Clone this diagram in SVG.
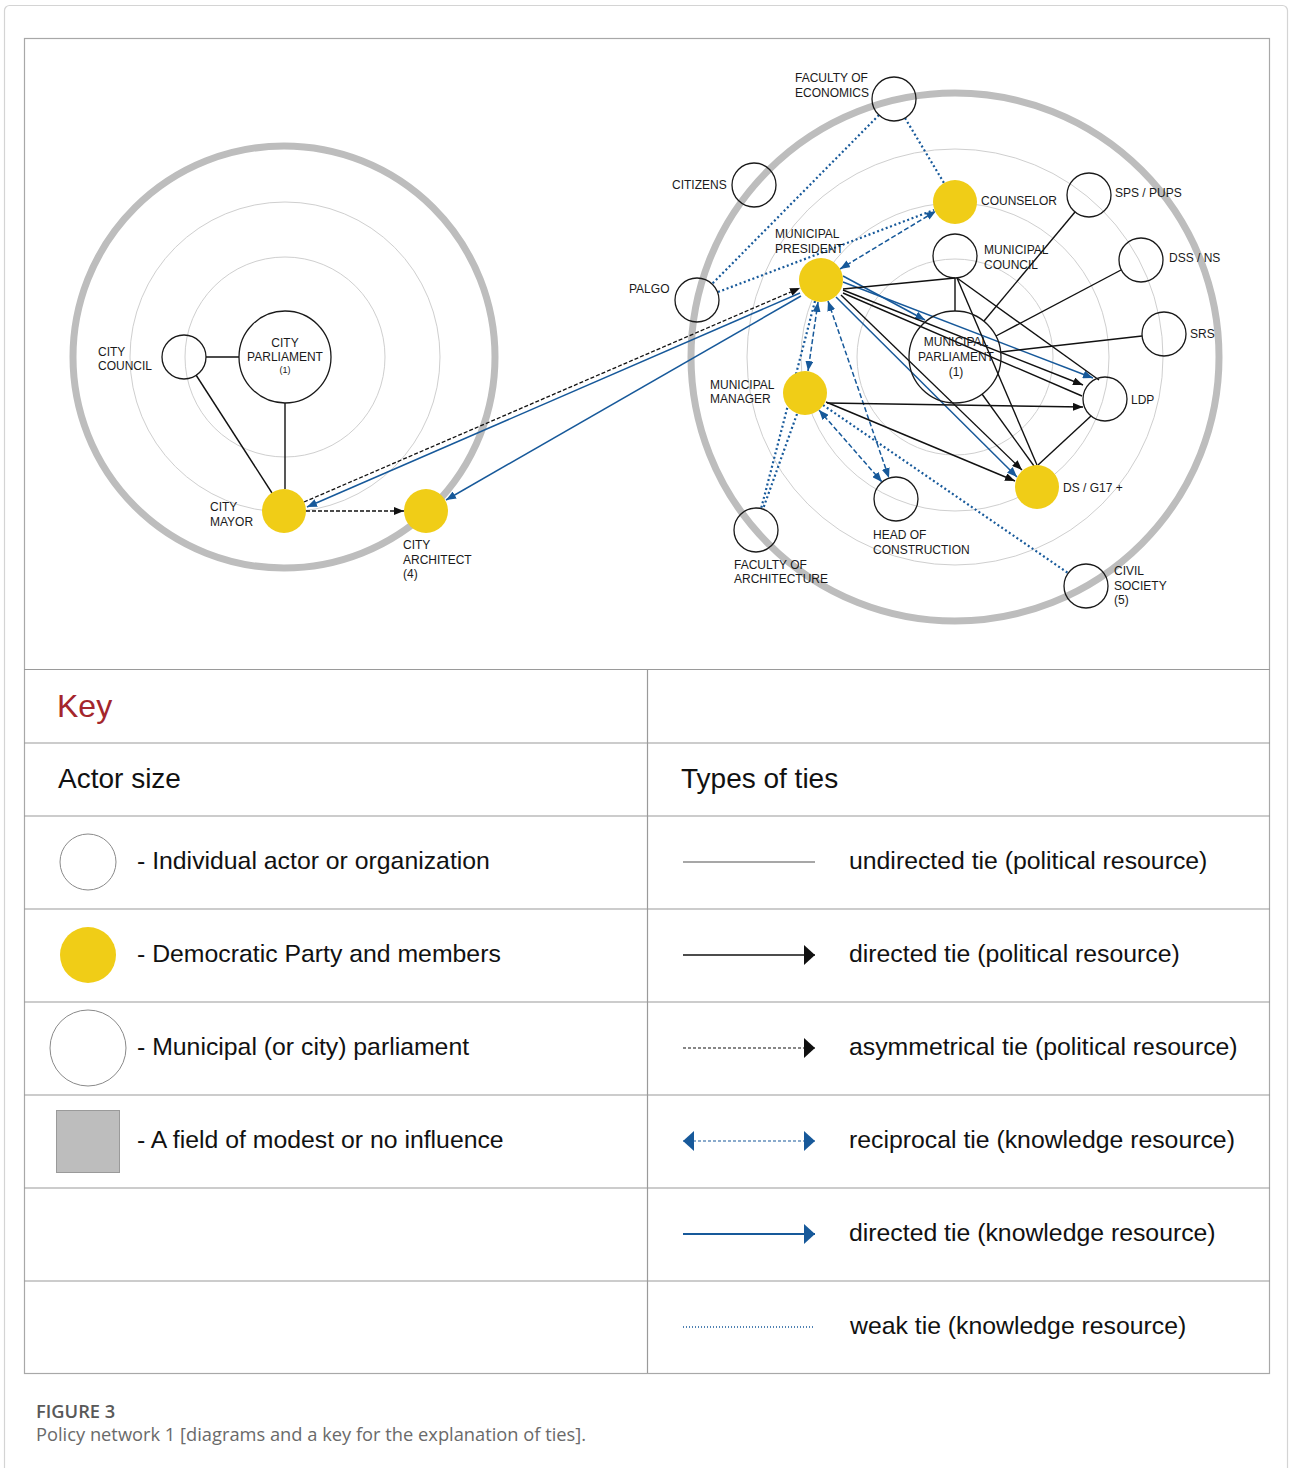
<svg xmlns="http://www.w3.org/2000/svg" width="1290" height="1468" viewBox="0 0 1290 1468">
<style>
  .lbl{font-family:"Liberation Sans",Arial,sans-serif;font-size:12px;fill:#1a1a1a}
  .sm{font-size:9px}
  .node{fill:none;stroke:#1a1a1a;stroke-width:1.3}
  .dp{fill:#f0cd17;stroke:none}
  .field{fill:none;stroke:#bdbdbd;stroke-width:7}
  .ring{fill:none;stroke:#cfcfcf;stroke-width:1}
  .u{stroke:#111;stroke-width:1.4;fill:none}
  .asym{stroke:#111;stroke-width:1.3;stroke-dasharray:4 2;fill:none}
  .kd{stroke:#17599a;stroke-width:1.5;fill:none}
  .rec{stroke:#17599a;stroke-width:1.5;stroke-dasharray:5 2.5;fill:none}
  .weak{stroke:#17599a;stroke-width:2.2;stroke-dasharray:2 2.6;fill:none}
  .grid{stroke:#9a9a9a;stroke-width:1.2;fill:none}
  .kt{font-family:"Liberation Sans",Arial,sans-serif;font-size:24.8px;fill:#111}
  .kh{font-family:"Liberation Sans",Arial,sans-serif;font-size:28px;fill:#111}
</style>
<defs>
  <marker id="ab" viewBox="0 0 10 8" refX="10" refY="4" markerWidth="10" markerHeight="8" markerUnits="userSpaceOnUse" orient="auto"><path d="M0,0L10,4L0,8z" fill="#111"/></marker>
  <marker id="au" viewBox="0 0 10 8" refX="10" refY="4" markerWidth="10" markerHeight="8" markerUnits="userSpaceOnUse" orient="auto"><path d="M0,0L10,4L0,8z" fill="#17599a"/></marker>
  <marker id="aur" viewBox="0 0 10 8" refX="10" refY="4" markerWidth="10" markerHeight="8" markerUnits="userSpaceOnUse" orient="auto-start-reverse"><path d="M0,0L10,4L0,8z" fill="#17599a"/></marker>
  <marker id="kb" viewBox="0 0 11 20" refX="11" refY="10" markerWidth="11" markerHeight="20" markerUnits="userSpaceOnUse" orient="auto"><path d="M0,0L11,10L0,20z" fill="#111"/></marker>
  <marker id="ku" viewBox="0 0 11 20" refX="11" refY="10" markerWidth="11" markerHeight="20" markerUnits="userSpaceOnUse" orient="auto"><path d="M0,0L11,10L0,20z" fill="#17599a"/></marker>
  <marker id="kur" viewBox="0 0 11 20" refX="11" refY="10" markerWidth="11" markerHeight="20" markerUnits="userSpaceOnUse" orient="auto-start-reverse"><path d="M0,0L11,10L0,20z" fill="#17599a"/></marker>
</defs>

<rect width="1290" height="1468" fill="#fff"/>
<rect x="4.5" y="5.5" width="1283" height="1475" rx="5" fill="none" stroke="#d4d4d4" stroke-width="1.2"/>
<rect x="24.5" y="38.5" width="1245" height="1335" fill="none" stroke="#a8a8a8" stroke-width="1.2"/>

<!-- fields of influence: city (left) and municipality (right) -->
<g id="city-field">
  <circle class="ring" cx="285" cy="357" r="100"/>
  <circle class="ring" cx="285" cy="357" r="155"/>
  <circle class="field" cx="284" cy="357" r="211"/>
</g>
<g id="municipal-field">
  <circle class="ring" cx="955" cy="357" r="98"/>
  <circle class="ring" cx="955" cy="357" r="154"/>
  <circle class="ring" cx="955" cy="357" r="208"/>
  <circle class="field" cx="955" cy="357" r="264"/>
</g>

<g id="connectors">
  <!-- city network -->
  <line class="u" x1="206" y1="357" x2="239" y2="357"/>
  <line class="u" x1="196" y1="375" x2="272" y2="493"/>
  <line class="u" x1="285" y1="403" x2="285" y2="489"/>
  <line class="asym" x1="306" y1="511" x2="404" y2="511" marker-end="url(#ab)"/>
  <!-- between the two networks -->
  <line class="asym" x1="304" y1="502" x2="800" y2="288" marker-end="url(#ab)"/>
  <line class="kd" x1="800" y1="293" x2="307" y2="507" marker-end="url(#au)"/>
  <line class="kd" x1="801" y1="296" x2="446" y2="500" marker-end="url(#au)"/>
  <!-- weak ties -->
  <line class="weak" x1="879" y1="115" x2="712" y2="284"/>
  <line class="weak" x1="905" y1="118" x2="944" y2="183"/>
  <line class="weak" x1="718" y1="292" x2="934" y2="210"/>
  <line class="weak" x1="815" y1="301" x2="761" y2="509"/>
  <line class="weak" x1="797" y1="414" x2="763" y2="509"/>
  <line class="weak" x1="823" y1="405" x2="1068" y2="573"/>
  <!-- reciprocal ties -->
  <line class="rec" x1="840" y1="269" x2="936" y2="211" marker-start="url(#aur)" marker-end="url(#aur)"/>
  <line class="rec" x1="818" y1="302" x2="808" y2="371" marker-start="url(#aur)" marker-end="url(#aur)"/>
  <line class="rec" x1="828" y1="301" x2="889" y2="478" marker-start="url(#aur)" marker-end="url(#aur)"/>
  <line class="rec" x1="819" y1="410" x2="882" y2="482" marker-start="url(#aur)" marker-end="url(#aur)"/>
  <!-- directed knowledge ties -->
  <line class="kd" x1="843" y1="276" x2="925" y2="320" marker-end="url(#au)"/>
  <line class="kd" x1="843" y1="282" x2="1093" y2="378" marker-end="url(#au)"/>
  <line class="kd" x1="836" y1="297" x2="1017" y2="477" marker-end="url(#au)"/>
  <!-- undirected political ties -->
  <line class="u" x1="843" y1="289" x2="955" y2="278"/>
  <line class="u" x1="955" y1="278" x2="955" y2="311"/>
  <line class="u" x1="957" y1="278" x2="1099" y2="380"/>
  <line class="u" x1="957" y1="278" x2="1037" y2="465"/>
  <line class="u" x1="984" y1="321" x2="1075" y2="212"/>
  <line class="u" x1="996" y1="336" x2="1121" y2="270"/>
  <line class="u" x1="1001" y1="352" x2="1142" y2="336"/>
  <line class="u" x1="1091" y1="416" x2="1038" y2="465"/>
  <line class="u" x1="982" y1="394" x2="1034" y2="466"/>
  <line class="u" x1="843" y1="293" x2="1082" y2="396"/>
  <!-- directed political ties -->
  <line class="u" x1="843" y1="290" x2="1083" y2="385" marker-end="url(#ab)"/>
  <line class="u" x1="827" y1="403" x2="1083" y2="407" marker-end="url(#ab)"/>
  <line class="u" x1="841" y1="295" x2="1022" y2="470" marker-end="url(#ab)"/>
  <line class="u" x1="826" y1="402" x2="1015" y2="481" marker-end="url(#ab)"/>
</g>

<!-- city network actors -->
<g id="city-parliament">
  <circle class="node" cx="285" cy="357" r="46"/>
  <text class="lbl" x="285" y="347" text-anchor="middle">CITY</text>
  <text class="lbl" x="285" y="361" text-anchor="middle">PARLIAMENT</text>
  <text class="lbl sm" x="285" y="373" text-anchor="middle">(1)</text>
</g>
<g id="city-council">
  <circle class="node" cx="184" cy="357" r="22"/>
  <text class="lbl" x="98" y="356">CITY</text>
  <text class="lbl" x="98" y="370">COUNCIL</text>
</g>
<g id="city-mayor">
  <circle class="dp" cx="284" cy="511" r="22"/>
  <text class="lbl" x="210" y="511">CITY</text>
  <text class="lbl" x="210" y="526">MAYOR</text>
</g>
<g id="city-architect">
  <circle class="dp" cx="426" cy="511" r="22"/>
  <text class="lbl" x="403" y="549">CITY</text>
  <text class="lbl" x="403" y="564">ARCHITECT</text>
  <text class="lbl" x="403" y="578">(4)</text>
</g>

<!-- municipal network actors -->
<g id="faculty-economics">
  <circle class="node" cx="894" cy="99" r="22"/>
  <text class="lbl" x="795" y="82">FACULTY OF</text>
  <text class="lbl" x="795" y="97">ECONOMICS</text>
</g>
<g id="citizens">
  <circle class="node" cx="754" cy="185" r="22"/>
  <text class="lbl" x="672" y="189">CITIZENS</text>
</g>
<g id="palgo">
  <circle class="node" cx="697" cy="300" r="22"/>
  <text class="lbl" x="629" y="293">PALGO</text>
</g>
<g id="counselor">
  <circle class="dp" cx="955" cy="202" r="22"/>
  <text class="lbl" x="981" y="205">COUNSELOR</text>
</g>
<g id="municipal-council">
  <circle class="node" cx="955" cy="256" r="22"/>
  <text class="lbl" x="984" y="254">MUNICIPAL</text>
  <text class="lbl" x="984" y="269">COUNCIL</text>
</g>
<g id="municipal-president">
  <circle class="dp" cx="821" cy="280" r="22"/>
  <text class="lbl" x="775" y="238">MUNICIPAL</text>
  <text class="lbl" x="775" y="253">PRESIDENT</text>
</g>
<g id="municipal-parliament">
  <circle class="node" cx="955" cy="357" r="46"/>
  <text class="lbl" x="956" y="346" text-anchor="middle">MUNICIPAL</text>
  <text class="lbl" x="956" y="361" text-anchor="middle">PARLIAMENT</text>
  <text class="lbl" x="956" y="376" text-anchor="middle">(1)</text>
</g>
<g id="municipal-manager">
  <circle class="dp" cx="805" cy="393" r="22"/>
  <text class="lbl" x="710" y="389">MUNICIPAL</text>
  <text class="lbl" x="710" y="403">MANAGER</text>
</g>
<g id="sps-pups">
  <circle class="node" cx="1089" cy="195" r="22"/>
  <text class="lbl" x="1115" y="197">SPS / PUPS</text>
</g>
<g id="dss-ns">
  <circle class="node" cx="1141" cy="260" r="22"/>
  <text class="lbl" x="1169" y="262">DSS / NS</text>
</g>
<g id="srs">
  <circle class="node" cx="1164" cy="334" r="22"/>
  <text class="lbl" x="1190" y="338">SRS</text>
</g>
<g id="ldp">
  <circle class="node" cx="1105" cy="399" r="22"/>
  <text class="lbl" x="1131" y="404">LDP</text>
</g>
<g id="ds-g17">
  <circle class="dp" cx="1037" cy="487" r="22"/>
  <text class="lbl" x="1063" y="492">DS / G17 +</text>
</g>
<g id="head-construction">
  <circle class="node" cx="896" cy="499" r="22"/>
  <text class="lbl" x="873" y="539">HEAD OF</text>
  <text class="lbl" x="873" y="554">CONSTRUCTION</text>
</g>
<g id="faculty-architecture">
  <circle class="node" cx="756" cy="530" r="22"/>
  <text class="lbl" x="734" y="569">FACULTY OF</text>
  <text class="lbl" x="734" y="583">ARCHITECTURE</text>
</g>
<g id="civil-society">
  <circle class="node" cx="1086" cy="586" r="22"/>
  <text class="lbl" x="1114" y="575">CIVIL</text>
  <text class="lbl" x="1114" y="590">SOCIETY</text>
  <text class="lbl" x="1114" y="604">(5)</text>
</g>

<!-- key table -->
<g id="key">
  <line class="grid" x1="24" y1="669.5" x2="1270" y2="669.5"/>
  <line class="grid" x1="24" y1="743" x2="1270" y2="743"/>
  <line class="grid" x1="24" y1="816" x2="1270" y2="816"/>
  <line class="grid" x1="24" y1="909" x2="1270" y2="909"/>
  <line class="grid" x1="24" y1="1002" x2="1270" y2="1002"/>
  <line class="grid" x1="24" y1="1095" x2="1270" y2="1095"/>
  <line class="grid" x1="24" y1="1188" x2="1270" y2="1188"/>
  <line class="grid" x1="24" y1="1281" x2="1270" y2="1281"/>
  <line class="grid" x1="647.5" y1="669" x2="647.5" y2="1373"/>

  <text x="57" y="717" font-family="Liberation Sans, Arial, sans-serif" font-size="32" fill="#a4262c">Key</text>
  <text class="kh" x="58" y="788">Actor size</text>
  <text class="kh" x="681" y="788">Types of ties</text>

  <circle cx="88" cy="862" r="28" fill="none" stroke="#8a8a8a" stroke-width="1"/>
  <text class="kt" x="137" y="869">- Individual actor or organization</text>
  <circle cx="88" cy="955" r="28" fill="#f0cd17"/>
  <text class="kt" x="137" y="962">- Democratic Party and members</text>
  <circle cx="88" cy="1048" r="38" fill="none" stroke="#8a8a8a" stroke-width="1"/>
  <text class="kt" x="137" y="1055">- Municipal (or city) parliament</text>
  <rect x="56.5" y="1110.5" width="63" height="62" fill="#bdbdbd" stroke="#9a9a9a" stroke-width="1"/>
  <text class="kt" x="137" y="1148">- A field of modest or no influence</text>

  <line x1="683" y1="862" x2="815" y2="862" stroke="#8a8a8a" stroke-width="1.5"/>
  <text class="kt" x="849" y="869">undirected tie (political resource)</text>
  <line x1="683" y1="955" x2="815" y2="955" stroke="#111" stroke-width="1.5" marker-end="url(#kb)"/>
  <text class="kt" x="849" y="962">directed tie (political resource)</text>
  <line x1="683" y1="1048" x2="815" y2="1048" stroke="#111" stroke-width="1.2" stroke-dasharray="3 2" marker-end="url(#kb)"/>
  <text class="kt" x="849" y="1055">asymmetrical tie (political resource)</text>
  <line x1="683" y1="1141" x2="815" y2="1141" stroke="#17599a" stroke-width="1.2" stroke-dasharray="3 2" marker-start="url(#kur)" marker-end="url(#kur)"/>
  <text class="kt" x="849" y="1148">reciprocal tie (knowledge resource)</text>
  <line x1="683" y1="1234" x2="815" y2="1234" stroke="#17599a" stroke-width="1.8" marker-end="url(#ku)"/>
  <text class="kt" x="849" y="1241">directed tie (knowledge resource)</text>
  <line x1="683" y1="1327" x2="815" y2="1327" stroke="#17599a" stroke-width="1.5" stroke-dasharray="1 2"/>
  <text class="kt" x="850" y="1334">weak tie (knowledge resource)</text>
</g>

<g id="caption">
  <text x="36" y="1418" font-family="Open Sans, Liberation Sans, sans-serif" font-size="18.3" font-weight="600" fill="#595959">FIGURE 3</text>
  <text x="36" y="1441" font-family="Open Sans, Liberation Sans, sans-serif" font-size="18.3" fill="#6a6a6a">Policy network 1 [diagrams and a key for the explanation of ties].</text>
</g>
</svg>
